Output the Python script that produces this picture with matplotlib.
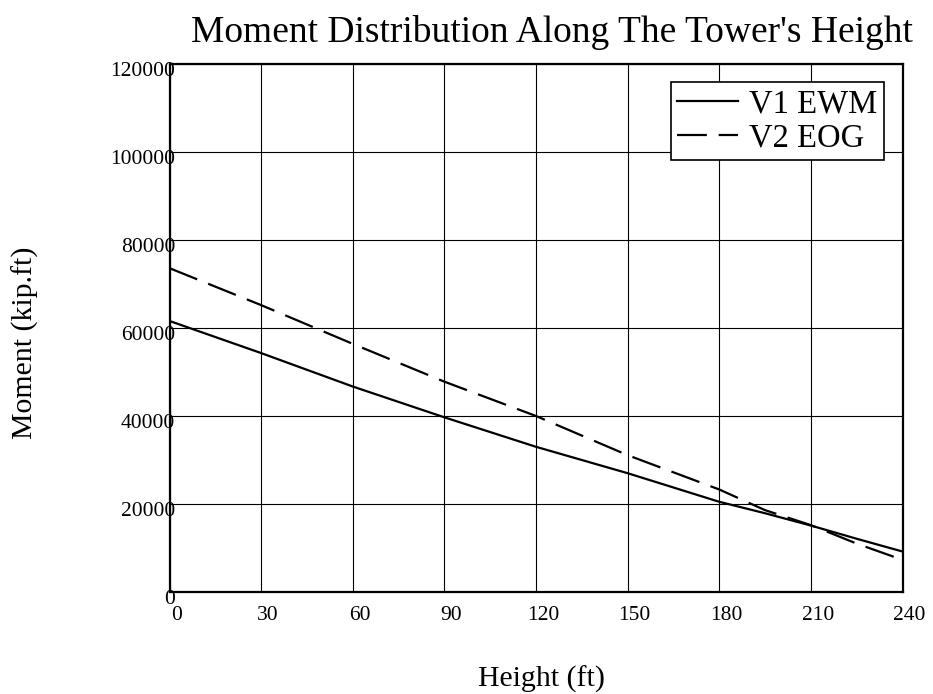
import matplotlib
matplotlib.use("Agg")
import matplotlib.pyplot as plt
import matplotlib.transforms as mtransforms
import numpy as np

# heights along the tower (ft) and bending moment (kip.ft) for the two load cases
height = [0, 30, 60, 90, 120, 150, 180, 195, 210, 225, 240]
moment_v1_ewm = [61600, 54300, 46700, 39700, 33000, 27000, 20500, 17900, 15100, 12100, 9200]
moment_v2_eog = [73600, 65200, 56400, 47800, 40000, 31100, 23300, 18600, 15200, 11000, 7300]

x_ticks = [0, 30, 60, 90, 120, 150, 180, 210, 240]
y_ticks = [0, 20000, 40000, 60000, 80000, 100000, 120000]

plt.rcParams["font.family"] = ["Liberation Serif", "DejaVu Serif"]
plt.rcParams["lines.scale_dashes"] = False

fig = plt.figure(figsize=(9.33, 6.94), dpi=100)
ax = fig.add_axes([169.5 / 933, 102 / 694, 733 / 933, 528 / 694])

ax.plot(height, moment_v1_ewm, color="black", linewidth=1.6, label="V1 EWM")
ax.plot(height, moment_v2_eog, color="black", linewidth=1.6,
        dashes=(21.5, 8.5), label="V2 EOG")

ax.set_xlim(0, 240)
ax.set_ylim(0, 120000)
ax.set_xticks(x_ticks)
ax.set_yticks(y_ticks)
ax.set_xticklabels([str(t) for t in x_ticks])
ax.set_yticklabels([str(t) for t in y_ticks])
ax.grid(True, color="black", linewidth=0.8)
ax.set_axisbelow(True)
ax.tick_params(length=0, labelsize=15.5)
ax.tick_params(axis="x", pad=10)
ax.tick_params(axis="y", pad=-4)
for s in ax.spines.values():
    s.set_linewidth(1.6)

# nudge tick labels the way the original layout sits them
dx = mtransforms.ScaledTranslation(7 / 100, 0, fig.dpi_scale_trans)
for lbl in ax.get_xticklabels():
    lbl.set_transform(lbl.get_transform() + dx)
dy = mtransforms.ScaledTranslation(0, -5 / 100, fig.dpi_scale_trans)
for lbl in ax.get_yticklabels():
    lbl.set_transform(lbl.get_transform() + dy)

fig.text(552 / 933, 1 - 32 / 694, "Moment Distribution Along The Tower's Height",
         ha="center", va="center", fontsize=27)
fig.text(542 / 933, 1 - 679 / 694, "Height (ft)", ha="center", va="center", fontsize=21.5)
fig.text(25 / 933, 1 - 343 / 694, "Moment (kip.ft)", ha="center", va="center",
         rotation=90, fontsize=21.5)

leg = ax.legend(loc="upper right", bbox_to_anchor=(0.9748, 0.9659), fontsize=23.5,
                frameon=True, fancybox=False, handlelength=1.85, handletextpad=0.36,
                borderpad=0.2, labelspacing=0.12, borderaxespad=0)
leg.get_frame().set_edgecolor("black")
leg.get_frame().set_linewidth(1.2)
leg.get_frame().set_alpha(1)

fig.savefig("out.png", dpi=100)
